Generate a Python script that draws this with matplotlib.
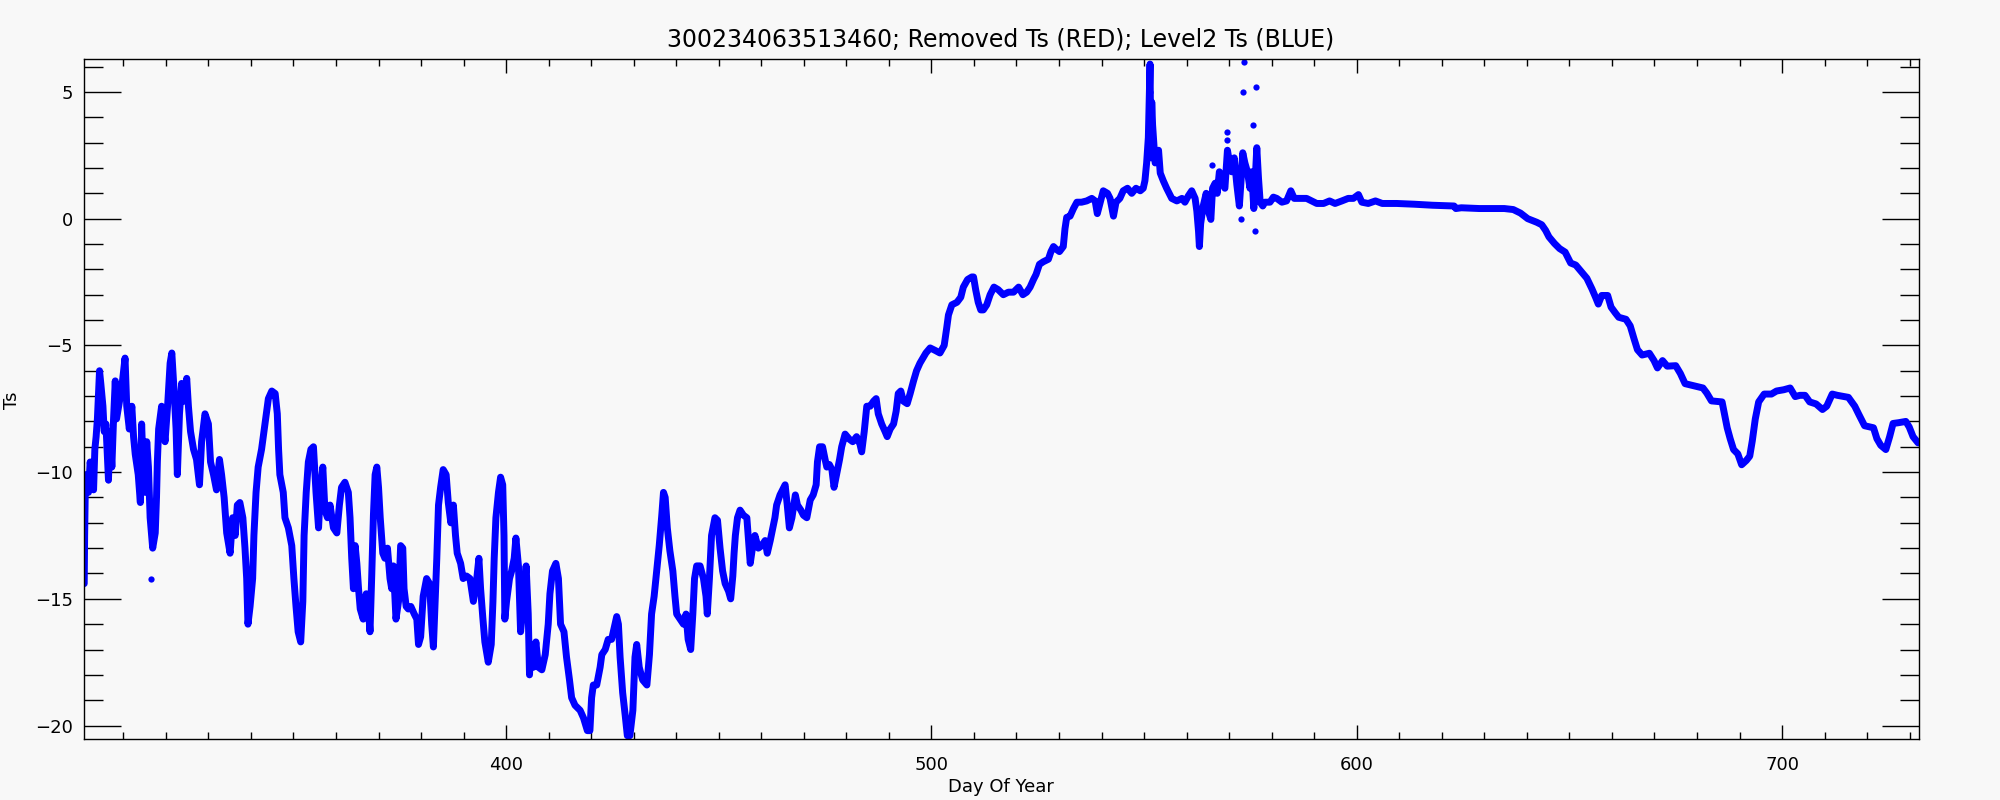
import matplotlib
matplotlib.use("Agg")
import matplotlib.pyplot as plt
from matplotlib.ticker import MultipleLocator
import numpy as np

# Level2 Ts trace (day of year, Ts)
day = [300.8, 300.9, 301.1, 301.8, 302.2, 303.0, 303.3, 303.6, 303.9, 304.4, 304.7, 305.2, 305.5, 305.9,
       306.5, 306.9, 307.3, 307.7, 308.1, 308.4, 309.1, 309.6, 310.4, 310.8, 311.4, 312.0, 312.4, 312.8,
       313.5, 314.0, 314.3, 314.7, 315.1, 315.5, 315.9, 316.3, 316.9, 317.5, 317.8, 318.0, 318.3, 319.0,
       319.8, 320.4, 321.0, 321.4, 321.9, 322.4, 322.7, 323.2, 323.7, 324.3, 324.9, 325.3, 325.8, 326.5,
       327.2, 327.9, 328.4, 329.2, 330.0, 330.5, 331.2, 331.9, 332.6, 333.1, 333.7, 334.3, 335.1, 335.7,
       336.3, 336.8, 337.4, 338.1, 338.6, 339.0, 339.3, 339.8, 340.4, 340.7, 341.2, 341.7, 342.5, 343.3,
       344.1, 344.9, 345.7, 346.2, 346.5, 346.8, 347.6, 348.0, 348.8, 349.6, 350.1, 350.6, 351.1, 351.7,
       352.2, 352.5, 353.0, 353.5, 354.1, 354.7, 355.3, 355.9, 356.3, 356.9, 357.4, 358.0, 358.6, 359.4,
       360.2, 360.8, 361.3, 362.1, 362.9, 363.3, 363.7, 364.1, 364.5, 364.9, 365.3, 365.7, 366.4, 367.1,
       367.6, 368.0, 368.4, 368.8, 369.2, 369.6, 370.0, 370.4, 371.0, 371.5, 372.1, 372.7, 373.1, 373.5,
       374.1, 374.7, 375.2, 375.7, 376.0, 376.5, 377.0, 377.6, 378.4, 379.0, 379.4, 379.9, 380.5, 381.3,
       382.0, 382.5, 382.9, 383.3, 383.7, 384.1, 384.6, 385.2, 385.9, 386.4, 387.0, 387.6, 388.1, 388.5,
       389.3, 389.9, 390.7, 391.5, 392.3, 393.1, 393.6, 394.0, 394.5, 395.0, 395.8, 396.5, 396.9, 397.2,
       397.6, 398.2, 398.7, 399.2, 399.5, 399.7, 400.1, 400.8, 401.3, 401.9, 402.3, 402.9, 403.4, 404.1,
       404.7, 405.2, 405.5, 405.8, 406.4, 407.0, 407.6, 408.4, 409.2, 409.9, 410.3, 410.9, 411.7, 412.3,
       412.8, 413.6, 414.2, 414.9, 415.4, 416.2, 417.4, 418.2, 419.1, 419.7, 420.1, 420.5, 421.3, 422.1,
       422.5, 423.3, 424.0, 424.8, 425.6, 426.0, 426.4, 426.8, 427.4, 428.0, 428.5, 429.1, 429.8, 430.3,
       430.7, 431.3, 432.1, 433.1, 433.7, 434.2, 434.8, 435.4, 436.0, 436.6, 437.0, 437.4, 437.9, 438.5,
       439.2, 439.7, 440.1, 440.9, 441.7, 442.3, 442.8, 443.4, 443.9, 444.3, 444.8, 445.6, 446.4, 447.0,
       447.3, 447.8, 448.3, 449.1, 449.7, 450.3, 450.9, 451.5, 452.3, 452.8, 453.3, 453.6, 453.9, 454.4,
       455.0, 455.8, 456.6, 457.0, 457.4, 458.0, 458.5, 459.3, 460.1, 460.9, 461.4, 462.1, 462.7, 463.2,
       463.6, 464.4, 465.0, 465.6, 466.1, 466.6, 467.2, 468.0, 468.5, 469.3, 469.9, 470.7, 471.5, 472.2,
       472.9, 473.2, 473.7, 474.4, 475.0, 475.4, 476.0, 476.6, 477.1, 477.7, 478.4, 478.9, 479.7, 480.7,
       481.5, 482.4, 483.2, 483.6, 484.2, 484.8, 485.6, 486.4, 487.0, 487.5, 488.3, 489.1, 489.6, 490.3,
       491.1, 491.7, 492.2, 492.8, 493.4, 494.3, 495.0, 495.8, 496.5, 497.3, 498.0, 498.7, 499.7, 500.9,
       502.0, 503.0, 503.6, 504.0, 504.8, 506.0, 506.9, 507.5, 508.5, 509.5, 509.9, 510.4, 511.0, 511.6,
       512.2, 513.0, 513.8, 514.7, 515.7, 516.9, 518.1, 519.3, 520.5, 521.5, 522.4, 523.2, 524.0, 524.6,
       525.4, 526.3, 527.5, 528.1, 528.7, 529.3, 530.1, 531.0, 531.4, 531.8, 532.6, 533.4, 534.2, 535.3,
       536.5, 537.7, 538.5, 539.0, 539.7, 540.4, 541.4, 542.0, 542.8, 543.4, 544.3, 545.1, 546.1, 547.1,
       548.1, 549.1, 549.8, 550.2, 550.6, 551.0, 551.2, 551.4, 551.6, 551.8, 552.0, 552.6, 553.4, 553.8,
       554.5, 555.3, 556.5, 557.7, 558.9, 559.6, 560.4, 561.2, 562.0, 562.4, 562.8, 563.0, 563.3, 563.9,
       564.6, 565.1, 565.7, 566.1, 566.7, 567.2, 567.7, 568.3, 569.0, 569.6, 570.1, 570.6, 571.2, 571.8,
       572.4, 572.8, 573.2, 573.7, 574.3, 574.9, 575.3, 575.8, 576.5, 576.9, 577.3, 577.9, 578.4, 579.6,
       580.4, 581.2, 582.4, 583.5, 584.5, 585.3, 586.7, 588.2, 589.4, 590.6, 592.2, 593.6, 594.9, 596.5,
       598.0, 599.2, 600.4, 601.2, 602.7, 604.4, 606.0, 609.4, 613.6, 617.8, 622.9, 623.3, 624.6, 628.8,
       634.7, 636.8, 638.5, 640.2, 642.3, 643.5, 644.4, 645.2, 646.5, 647.7, 649.0, 650.3, 651.5, 652.8,
       654.1, 655.3, 656.2, 656.8, 657.6, 659.0, 659.8, 660.8, 661.6, 663.3, 664.3, 665.2, 666.0, 667.1,
       668.8, 669.9, 670.7, 671.9, 673.0, 675.0, 676.1, 677.2, 678.9, 681.4, 682.3, 683.4, 685.9, 686.5,
       687.1, 687.8, 688.6, 689.6, 690.5, 691.6, 692.4, 693.0, 693.7, 694.5, 695.8, 697.5, 698.7, 700.4,
       701.9, 703.1, 704.2, 705.4, 706.5, 708.0, 709.5, 710.5, 711.8, 713.0, 715.6, 717.1, 718.1, 719.4,
       721.5, 722.3, 723.2, 724.4, 725.3, 726.1, 727.4, 729.1, 729.9, 730.8, 732.0]
ts = [-14.4, -12.5, -10.1, -10.8, -9.6, -10.7, -9.1, -8.6, -7.9, -6.0, -6.5, -7.4, -8.4, -8.1,
      -10.3, -8.4, -9.8, -7.9, -6.4, -7.9, -7.2, -6.7, -5.5, -7.4, -8.3, -7.4, -8.6, -9.3,
      -10.1, -11.2, -8.1, -10.0, -10.8, -8.8, -9.8, -11.8, -13.0, -12.4, -11.0, -9.6, -8.3, -7.4,
      -8.8, -7.4, -5.7, -5.3, -6.7, -8.3, -10.1, -7.7, -6.5, -7.2, -6.3, -7.4, -8.4, -9.1,
      -9.5, -10.5, -8.8, -7.7, -8.1, -9.6, -10.1, -10.7, -9.5, -10.1, -11.0, -12.4, -13.2, -11.8,
      -12.5, -11.3, -11.2, -11.8, -13.0, -14.2, -16.0, -15.3, -14.2, -12.5, -10.8, -9.8, -9.1, -8.1,
      -7.1, -6.8, -6.9, -7.7, -9.1, -10.1, -10.8, -11.8, -12.2, -12.9, -14.2, -15.3, -16.3, -16.7,
      -15.1, -12.5, -10.8, -9.6, -9.1, -9.0, -10.8, -12.2, -10.8, -9.8, -11.5, -11.8, -11.3, -12.2,
      -12.4, -11.3, -10.6, -10.4, -10.8, -11.8, -13.4, -14.6, -12.9, -13.6, -14.6, -15.4, -15.8, -14.8,
      -15.4, -16.3, -14.1, -11.7, -10.1, -9.8, -10.6, -11.8, -13.2, -13.4, -13.0, -14.2, -14.6, -13.7,
      -15.8, -15.1, -12.9, -13.0, -14.6, -15.3, -15.4, -15.3, -15.6, -15.8, -16.8, -16.5, -14.9, -14.2,
      -14.4, -16.0, -16.9, -15.1, -13.4, -11.3, -10.6, -9.9, -10.1, -11.2, -12.0, -11.3, -12.5, -13.2,
      -13.6, -14.2, -14.1, -14.2, -15.1, -14.2, -13.4, -14.6, -15.7, -16.7, -17.5, -16.8, -15.1, -13.4,
      -11.8, -10.8, -10.2, -10.5, -12.5, -15.8, -15.1, -14.2, -13.9, -13.4, -12.6, -13.7, -16.3, -15.1,
      -13.7, -15.6, -18.0, -16.8, -17.7, -16.7, -17.7, -17.8, -17.2, -16.0, -14.8, -13.9, -13.6, -14.2,
      -16.0, -16.3, -17.3, -18.2, -18.9, -19.2, -19.4, -19.7, -20.2, -20.2, -18.9, -18.4, -18.4, -17.7,
      -17.2, -17.0, -16.6, -16.6, -16.0, -15.7, -16.0, -17.3, -18.7, -19.6, -20.4, -20.4, -19.4, -17.3,
      -16.8, -17.7, -18.2, -18.4, -17.2, -15.6, -14.9, -13.9, -12.9, -11.7, -10.8, -11.0, -12.2, -13.1,
      -13.9, -14.9, -15.6, -15.8, -16.0, -15.6, -16.6, -17.0, -15.6, -14.2, -13.7, -13.7, -14.2, -14.9,
      -15.6, -14.2, -12.5, -11.8, -11.9, -13.0, -13.9, -14.4, -14.7, -15.0, -14.1, -13.2, -12.5, -11.8,
      -11.5, -11.7, -11.8, -12.7, -13.6, -12.9, -12.5, -13.0, -12.9, -12.7, -13.2, -12.7, -12.2, -11.8,
      -11.3, -10.9, -10.7, -10.5, -11.3, -12.2, -11.8, -10.9, -11.3, -11.5, -11.7, -11.8, -11.1, -10.9,
      -10.5, -9.6, -9.0, -9.0, -9.5, -9.8, -9.7, -9.9, -10.6, -10.1, -9.5, -9.0, -8.5, -8.7,
      -8.8, -8.6, -8.9, -9.2, -8.4, -7.4, -7.4, -7.2, -7.1, -7.7, -8.1, -8.4, -8.6, -8.3,
      -8.1, -7.6, -6.9, -6.8, -7.2, -7.3, -6.9, -6.4, -6.0, -5.7, -5.5, -5.3, -5.1, -5.2,
      -5.3, -5.0, -4.3, -3.8, -3.4, -3.3, -3.1, -2.7, -2.4, -2.3, -2.3, -2.8, -3.3, -3.6,
      -3.6, -3.4, -3.0, -2.7, -2.8, -3.0, -2.9, -2.9, -2.7, -3.0, -2.9, -2.7, -2.4, -2.2,
      -1.8, -1.7, -1.6, -1.3, -1.1, -1.2, -1.3, -1.1, -0.4, 0.05, 0.1, 0.4, 0.65, 0.65,
      0.7, 0.8, 0.7, 0.2, 0.65, 1.1, 1.0, 0.8, 0.1, 0.65, 0.8, 1.1, 1.2, 1.0,
      1.2, 1.1, 1.2, 1.5, 2.2, 3.2, 4.6, 6.1, 2.4, 4.6, 3.7, 2.2, 2.7, 1.8,
      1.5, 1.2, 0.8, 0.7, 0.8, 0.65, 0.9, 1.1, 0.8, 0.3, -0.5, -1.1, -0.2, 0.5,
      1.0, 0.3, -0.03, 1.2, 1.4, 1.0, 1.85, 1.5, 1.2, 2.7, 2.2, 1.85, 2.4, 1.35,
      0.5, 1.5, 2.6, 2.2, 1.85, 1.2, 1.85, 0.4, 2.8, 1.6, 0.65, 0.5, 0.65, 0.65,
      0.85, 0.8, 0.65, 0.7, 1.1, 0.8, 0.8, 0.8, 0.7, 0.6, 0.6, 0.7, 0.6, 0.7,
      0.8, 0.8, 0.95, 0.65, 0.6, 0.7, 0.6, 0.6, 0.57, 0.53, 0.5, 0.4, 0.43, 0.4,
      0.4, 0.36, 0.22, 0.0, -0.14, -0.24, -0.46, -0.72, -0.98, -1.18, -1.32, -1.75, -1.83, -2.09,
      -2.35, -2.77, -3.12, -3.37, -3.03, -3.03, -3.49, -3.72, -3.89, -3.97, -4.23, -4.74, -5.17, -5.38,
      -5.31, -5.6, -5.89, -5.6, -5.82, -5.8, -6.11, -6.51, -6.58, -6.68, -6.88, -7.19, -7.23, -7.74,
      -8.25, -8.68, -9.11, -9.28, -9.71, -9.54, -9.37, -8.77, -7.91, -7.23, -6.92, -6.92, -6.8, -6.75,
      -6.68, -7.02, -6.97, -6.97, -7.23, -7.31, -7.53, -7.4, -6.92, -6.97, -7.05, -7.4, -7.74, -8.17,
      -8.25, -8.68, -8.94, -9.11, -8.6, -8.08, -8.05, -8.0, -8.22, -8.6, -8.85]

# isolated dots away from the main band
dot_day = [316.4, 306.5, 551.5, 551.7, 565.9, 569.4, 569.5, 572.9, 573.2, 573.4, 575.5, 576.1, 576.3]
dot_ts = [-14.2, -10.3, 5.0, 4.2, 2.1, 3.4, 3.1, -0.03, 5.0, 6.2, 3.7, -0.5, 5.2]

title = "300234063513460; Removed Ts (RED); Level2 Ts (BLUE)"
bg = "#f8f8f8"

fig = plt.figure(figsize=(20, 8), dpi=100, facecolor=bg)
ax = fig.add_axes([0.042, 0.07625, 0.9175, 0.85])
ax.set_facecolor(bg)

ax.plot(day, ts, color=(0, 0, 1), lw=5.0, solid_joinstyle="round", solid_capstyle="round")
ax.plot(dot_day, dot_ts, "o", color=(0, 0, 1), ms=4.5, mew=0)

ax.set_xlim(300.75, 732.2)
ax.set_ylim(-20.53, 6.3)
ax.xaxis.set_major_locator(MultipleLocator(100))
ax.xaxis.set_minor_locator(MultipleLocator(10))
ax.yaxis.set_major_locator(MultipleLocator(5))
ax.yaxis.set_minor_locator(MultipleLocator(1))

ax.tick_params(axis="both", which="both", direction="in", top=True, right=True,
               color="black", width=1.0, labelsize=13)
ax.tick_params(axis="x", which="major", length=10, pad=12)
ax.tick_params(axis="x", which="minor", length=5)
ax.tick_params(axis="y", which="major", length=26.5, pad=8)
ax.tick_params(axis="y", which="minor", length=13.5)
for s in ax.spines.values():
    s.set_linewidth(1.0)

fig.text(0.5005, 0.951, title, ha="center", va="center", fontsize=17)
fig.text(0.5005, 0.016, "Day Of Year", ha="center", va="center", fontsize=13)
fig.text(0.006, 0.5, "Ts", ha="center", va="center", rotation=90, fontsize=13)

fig.savefig("out.png", dpi=100, facecolor=bg)
